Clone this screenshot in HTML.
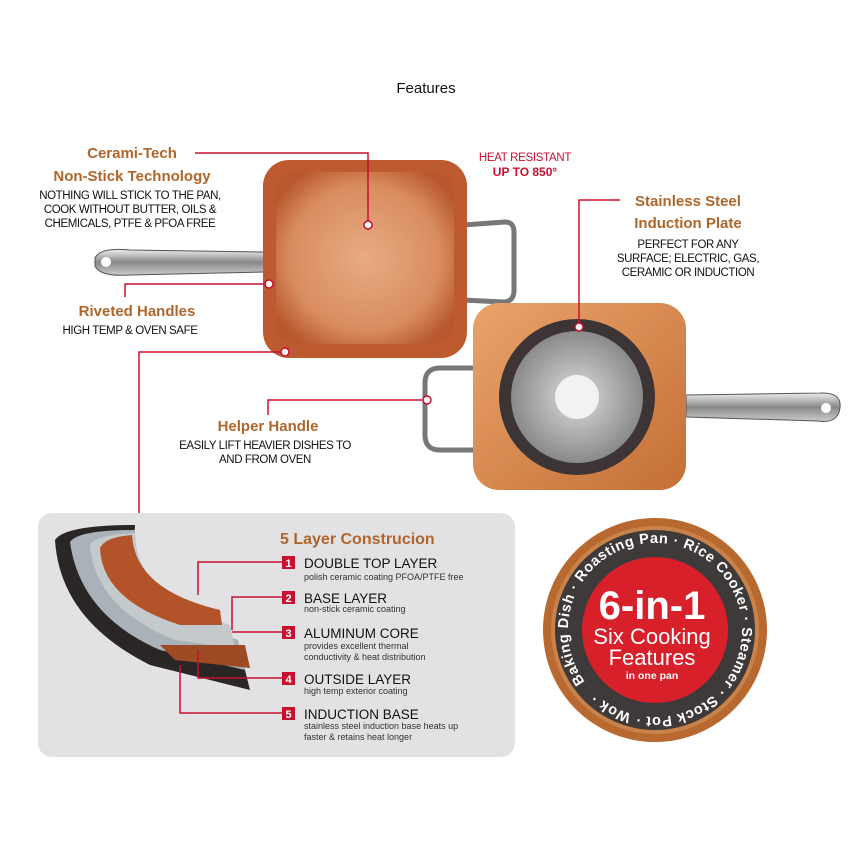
<!DOCTYPE html>
<html><head><meta charset="utf-8"><style>
html,body{margin:0;padding:0;background:#fff}
body{width:850px;height:850px;position:relative;overflow:hidden;font-family:"Liberation Sans",sans-serif}
</style></head><body>
<svg width="850" height="850" viewBox="0 0 850 850" xmlns="http://www.w3.org/2000/svg" style="position:absolute;left:0;top:0">
<defs>
<radialGradient id="cu" cx="50%" cy="50%" r="60%"><stop offset="0" stop-color="#e9ab82"/><stop offset="0.7" stop-color="#d88d60"/><stop offset="1" stop-color="#b9582e"/></radialGradient>
<linearGradient id="cu2" x1="0" y1="0" x2="1" y2="1"><stop offset="0" stop-color="#e9a46a"/><stop offset="1" stop-color="#c46f36"/></linearGradient>
<linearGradient id="steel" x1="0" y1="0" x2="0" y2="1"><stop offset="0" stop-color="#eee"/><stop offset="0.5" stop-color="#888"/><stop offset="1" stop-color="#ccc"/></linearGradient>
<radialGradient id="disc"><stop offset="0" stop-color="#ddd"/><stop offset="1" stop-color="#8a8a8a"/></radialGradient>
<path id="ring" d="M655,630 m-87,0 a87,87 0 1,1 174,0 a87,87 0 1,1 -174,0"/>
</defs>
<text x="426" y="93" font-size="15" text-anchor="middle" fill="#111">Features</text>

<!-- pan 1 -->
<path d="M95,258 Q100,247 130,250 L265,252 L265,272 L130,275 Q100,277 95,266 Z" fill="url(#steel)" stroke="#555"/>
<circle cx="106" cy="262" r="5" fill="#fff"/>
<path d="M463,225 L505,222 Q514,222 514,232 L514,290 Q514,302 503,302 L463,300" fill="none" stroke="#777" stroke-width="5"/>
<rect x="263" y="160" width="204" height="198" rx="26" fill="#bd5a30"/>
<rect x="276" y="172" width="178" height="172" rx="18" fill="url(#cu)"/>
<!-- pan 2 -->
<path d="M477,368 L440,368 Q425,368 425,383 L425,435 Q425,450 440,450 L477,450" fill="none" stroke="#777" stroke-width="5"/>
<path d="M686,395 L820,393 Q842,392 840,408 Q838,424 818,421 L686,417 Z" fill="url(#steel)" stroke="#555"/>
<circle cx="826" cy="408" r="5" fill="#fff"/>
<rect x="473" y="303" width="213" height="187" rx="26" fill="url(#cu2)"/>
<circle cx="577" cy="397" r="78" fill="#3d3535"/>
<circle cx="577" cy="397" r="66" fill="url(#disc)"/>
<circle cx="577" cy="397" r="22" fill="#f2f2f2"/>

<!-- text top -->
<g font-weight="bold" fill="#b0652b" text-anchor="middle">
<text x="132" y="158" font-size="15">Cerami-Tech</text>
<text x="132" y="181" font-size="15">Non-Stick Technology</text>
<text x="137" y="316" font-size="15">Riveted Handles</text>
<text x="268" y="431" font-size="15">Helper Handle</text>
<text x="688" y="206" font-size="15">Stainless Steel</text>
<text x="688" y="228" font-size="15">Induction Plate</text>
</g>
<g fill="#111" font-size="11.5" text-anchor="middle" letter-spacing="-0.4">
<text x="130" y="199">NOTHING WILL STICK TO THE PAN,</text>
<text x="130" y="213">COOK WITHOUT BUTTER, OILS &amp;</text>
<text x="130" y="227">CHEMICALS, PTFE &amp; PFOA FREE</text>
<text x="130" y="334">HIGH TEMP &amp; OVEN SAFE</text>
<text x="265" y="449">EASILY LIFT HEAVIER DISHES TO</text>
<text x="265" y="463">AND FROM OVEN</text>
<text x="688" y="248">PERFECT FOR ANY</text>
<text x="688" y="262">SURFACE; ELECTRIC, GAS,</text>
<text x="688" y="276">CERAMIC OR INDUCTION</text>
</g>
<text x="525" y="161" font-size="11.5" fill="#c8102e" text-anchor="middle" letter-spacing="-0.3">HEAT RESISTANT</text>
<text x="525" y="176" font-size="12" font-weight="bold" fill="#c8102e" text-anchor="middle">UP TO 850°</text>

<!-- callout lines -->
<g stroke="#c8102e" stroke-width="1.5" fill="none">
<path d="M195,153 L368,153 L368,221"/><circle cx="368" cy="225" r="4" fill="#fff"/>
<path d="M265,284 L125,284 L125,297"/><circle cx="269" cy="284" r="4" fill="#fff"/>
<path d="M281,352 L139,352 L139,528"/><circle cx="285" cy="352" r="4" fill="#fff"/>
<path d="M620,200 L579,200 L579,323"/><circle cx="579" cy="327" r="4" fill="#fff"/>
<path d="M423,400 L268,400 L268,415"/><circle cx="427" cy="400" r="4" fill="#fff"/>
</g>

<!-- panel -->
<rect x="38" y="513" width="477" height="244" rx="14" fill="#e2e2e4"/>
<path d="M55,540 Q65,525 135,525 Q130,600 240,650 L250,690 L150,665 Q60,620 55,540 Z" fill="#2b2626"/>
<path d="M70,542 Q78,530 135,530 Q133,600 238,640 L245,670 L160,650 Q80,615 70,542 Z" fill="#a8b2b8"/>
<path d="M90,545 Q95,535 135,533 Q135,595 230,625 L235,648 L175,640 Q95,608 90,545 Z" fill="#c4c9cc"/>
<path d="M100,548 Q105,537 132,535 Q135,590 220,610 L222,625 L180,625 Q102,600 100,548 Z" fill="#b3532a"/>
<path d="M160,645 L245,645 L250,668 L175,660 Z" fill="#9e4a24"/>
<text x="280" y="544" font-size="16" font-weight="bold" fill="#b0652b">5 Layer Construcion</text>
<g stroke="#c8102e" stroke-width="1.5" fill="none">
<path d="M282,562 L198,562 L198,595"/>
<path d="M282,597 L232,597 L232,630"/>
<path d="M282,632 L232,632"/>
<path d="M282,678 L198,678 L198,650"/>
<path d="M282,713 L180,713 L180,665"/>
</g>
<g fill="#c8102e"><rect x="282" y="556" width="13" height="13"/><rect x="282" y="591" width="13" height="13"/><rect x="282" y="626" width="13" height="13"/><rect x="282" y="672" width="13" height="13"/><rect x="282" y="707" width="13" height="13"/></g>
<g fill="#fff" font-size="11" font-weight="bold" text-anchor="middle"><text x="288.5" y="567">1</text><text x="288.5" y="602">2</text><text x="288.5" y="637">3</text><text x="288.5" y="683">4</text><text x="288.5" y="718">5</text></g>
<g fill="#111" font-size="13.5"><text x="304" y="568">DOUBLE TOP LAYER</text><text x="304" y="603">BASE LAYER</text><text x="304" y="638">ALUMINUM CORE</text><text x="304" y="684">OUTSIDE LAYER</text><text x="304" y="719">INDUCTION BASE</text></g>
<g fill="#333" font-size="9"><text x="304" y="580">polish ceramic coating PFOA/PTFE free</text><text x="304" y="612">non-stick ceramic coating</text><text x="304" y="649">provides excellent thermal</text><text x="304" y="660">conductivity &amp; heat distribution</text><text x="304" y="694">high temp exterior coating</text><text x="304" y="729">stainless steel induction base heats up</text><text x="304" y="740">faster &amp; retains heat longer</text></g>

<!-- badge -->
<circle cx="655" cy="630" r="112" fill="#b8692f"/>
<circle cx="655" cy="630" r="104" fill="#c8824a"/>
<circle cx="655" cy="630" r="100" fill="#3f3a3a"/>
<circle cx="655" cy="630" r="73" fill="#d8202a"/>
<g transform="rotate(-40 655 630)">
<text font-size="14.5" font-weight="bold" fill="#fff"><textPath href="#ring" startOffset="1%" textLength="530" lengthAdjust="spacing">Baking Dish · Roasting Pan · Rice Cooker · Steamer · Stock Pot · Wok ·</textPath></text>
</g>
<g fill="#fff" text-anchor="middle">
<text x="652" y="619" font-size="40" font-weight="bold">6-in-1</text>
<text x="652" y="644" font-size="22">Six Cooking</text>
<text x="652" y="665" font-size="22">Features</text>
<text x="652" y="679" font-size="10.5" font-weight="bold">in one pan</text>
</g>
</svg>
</body></html>
